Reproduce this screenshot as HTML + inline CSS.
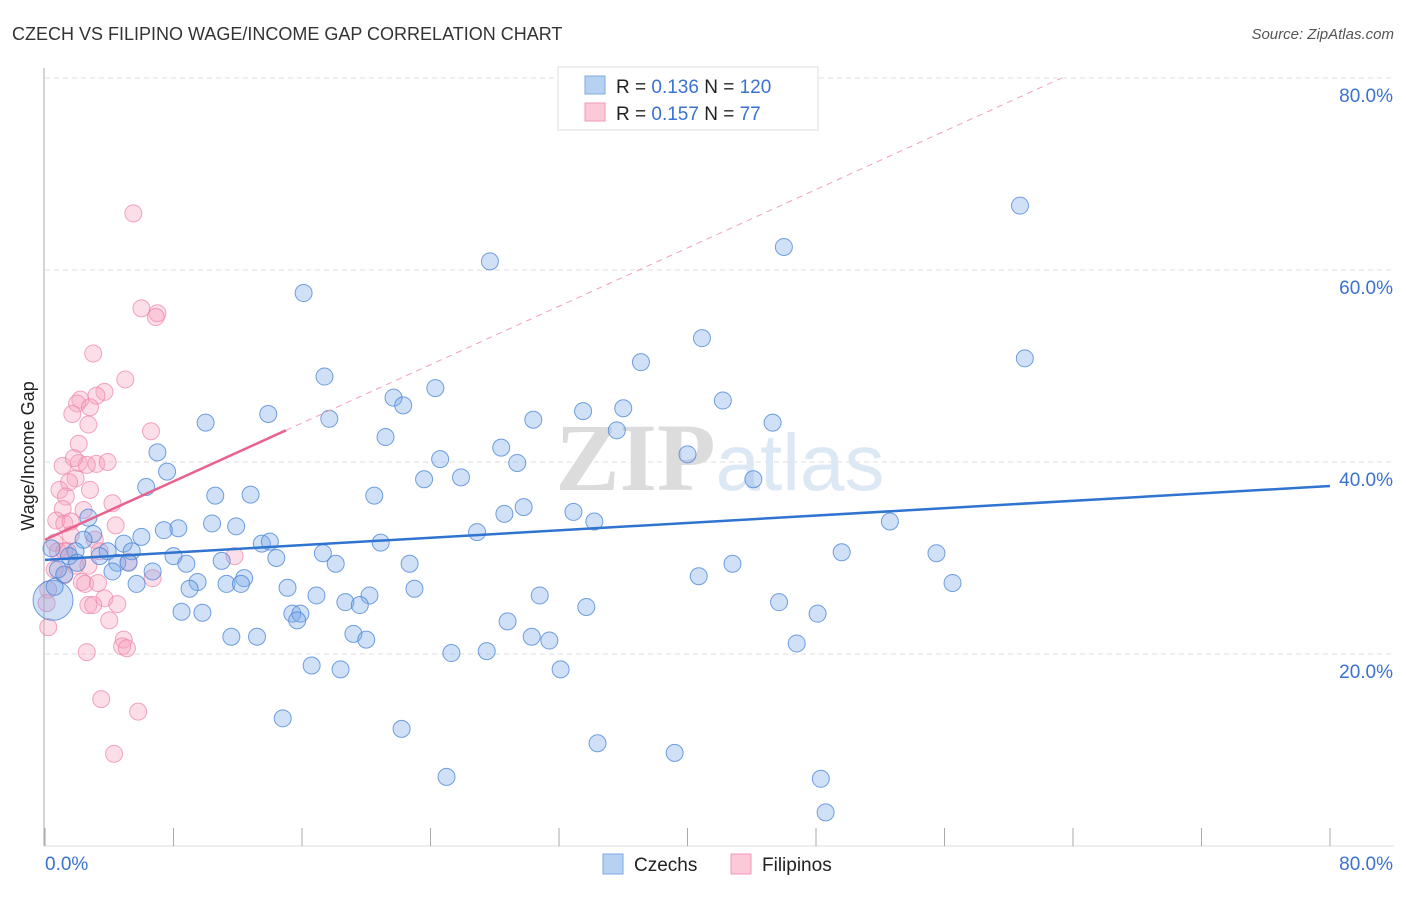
<!DOCTYPE html>
<html><head><meta charset="utf-8"><style>
body{margin:0;background:#fff;font-family:"Liberation Sans",sans-serif}
</style></head><body>
<svg id="c" width="1406" height="892" xmlns="http://www.w3.org/2000/svg">
<text x="12" y="40" font-size="18" fill="#333">CZECH VS FILIPINO WAGE/INCOME GAP CORRELATION CHART</text>
<text x="1394" y="39" font-size="15" fill="#555" text-anchor="end" font-style="italic">Source: ZipAtlas.com</text>
<g id="grid"></g>
<text x="720" y="490" font-size="96" fill="#e4e4e4" text-anchor="middle" font-family="Liberation Serif"><tspan font-weight="bold" fill="#dcdcdc">ZIP</tspan><tspan font-family="Liberation Sans" fill="#dde8f5" font-size="80">atlas</tspan></text>
<g id="marks"></g>
<text transform="translate(34,456) rotate(-90)" font-size="18" fill="#222" text-anchor="middle">Wage/Income Gap</text>
<g>
<rect x="558" y="67" width="260" height="63" fill="#fff" stroke="#ddd"/>
<rect x="585" y="76" width="20" height="18" fill="#b7d1f3" stroke="#7fa9e0"/>
<rect x="585" y="103" width="20" height="18" fill="#fcc9d8" stroke="#f09ab5"/>
<text x="616" y="93" font-size="19" fill="#222">R = <tspan fill="#3a72d0">0.136</tspan>   N = <tspan fill="#3a72d0">120</tspan></text>
<text x="616" y="120" font-size="19" fill="#222">R = <tspan fill="#3a72d0">0.157</tspan>   N = <tspan fill="#3a72d0">  77</tspan></text>
</g>
<g>
<rect x="603" y="854" width="20" height="20" fill="#b7d1f3" stroke="#7fa9e0"/>
<text x="634" y="871" font-size="19" fill="#222">Czechs</text>
<rect x="731" y="854" width="20" height="20" fill="#fcc9d8" stroke="#f09ab5"/>
<text x="762" y="871" font-size="19" fill="#222">Filipinos</text>
</g>
</svg>
<script>
const yTicks=[20,40,60,80];
const yTickLabels=["20.0%","40.0%","60.0%","80.0%"];
const xTicks=[0,8,16,24,32,40,48,56,64,72,80];
const czechX=[60.7,46.0,27.7,16.1,40.9,61.0,37.1,17.4,24.3,21.7,22.3,42.2,33.5,36.0,13.9,17.7,10.0,30.4,45.3,35.6,21.2,28.4,7.0,24.6,40.0,29.4,7.6,25.9,23.6,44.1,6.3,10.6,12.8,20.5,29.8,28.6,32.9,34.2,52.6,10.4,11.9,8.3,7.4,26.9,2.7,3.0,6.0,2.4,4.9,13.5,14.0,20.9,3.9,5.4,1.9,17.3,49.6,55.5,8.0,14.4,3.4,4.5,8.8,11.0,22.7,18.1,42.8,5.2,6.7,4.2,1.2,40.7,12.4,9.5,5.7,11.3,12.2,56.5,15.1,9.0,23.0,16.9,20.2,30.8,18.7,19.6,45.7,33.7,8.5,9.8,15.4,15.9,15.7,48.1,28.8,19.2,20.0,11.6,13.2,30.3,31.4,46.8,25.3,27.5,16.6,18.4,32.1,14.8,22.2,34.4,39.2,25.0,48.3,48.6,0.5,0.8,1.5,2.0,0.6,0.4];
const czechY=[66.7,62.4,60.9,57.6,52.9,50.8,50.4,48.9,47.7,46.7,45.9,46.4,45.3,45.6,45.0,44.5,44.1,44.4,44.1,43.3,42.6,41.5,41.0,40.3,40.8,39.9,39.0,38.4,38.2,38.2,37.4,36.5,36.6,36.5,35.3,34.6,34.8,33.8,33.8,33.6,33.3,33.1,32.9,32.7,34.2,32.5,32.2,31.9,31.5,31.5,31.7,31.6,30.7,30.7,30.7,30.5,30.6,30.5,30.2,30.0,30.2,29.5,29.4,29.7,29.4,29.4,29.4,29.5,28.6,28.6,28.3,28.1,27.9,27.5,27.3,27.3,27.3,27.4,26.9,26.8,26.8,26.1,26.1,26.1,25.4,25.1,25.4,24.9,24.4,24.3,24.2,24.2,23.5,24.2,23.4,22.1,21.5,21.8,21.8,21.8,21.4,21.1,20.1,20.3,18.8,18.4,18.4,13.3,12.2,10.7,9.7,7.2,7.0,3.5,25.6,28.8,30.2,29.5,27.0,31.0];
const filX=[5.5,6.0,7.0,6.9,3.0,5.0,3.7,3.2,2.2,2.0,2.8,1.7,2.7,6.6,2.1,1.1,2.1,3.2,3.9,1.9,1.5,0.9,2.8,1.3,1.1,4.2,2.4,0.7,1.2,1.6,4.4,1.6,3.1,0.6,0.8,1.4,3.4,11.8,5.2,1.9,2.7,0.6,1.2,6.7,2.3,2.5,3.3,0.2,3.7,0.1,2.7,3.0,4.5,4.0,0.2,4.9,4.8,5.1,2.6,3.5,5.8,4.3,2.6,1.8,1.2];
const filY=[65.9,56.0,55.5,55.1,51.3,48.6,47.3,46.9,46.5,46.1,45.7,45.0,43.9,43.2,41.9,39.6,39.9,39.8,40.0,38.3,37.9,37.1,37.1,36.4,35.1,35.7,35.0,33.9,33.6,33.8,33.4,32.4,31.9,31.6,30.7,30.7,30.7,30.2,29.6,29.2,29.2,28.8,28.2,27.9,27.5,27.3,27.4,26.7,25.8,25.3,25.1,25.1,25.2,23.5,22.8,21.5,20.8,20.6,20.2,15.3,14.0,9.6,39.7,40.4,30.7];
const czechTrend=[29.8,37.5];
const filTrend=[31.9,43.3];
const filTrendEnd=15;
const NS="http://www.w3.org/2000/svg";
const X0=45,X1=1330,Y0=846,Y80=78;
const xs=v=>X0+(X1-X0)*v/80;
const ys=v=>Y0-(Y0-Y80)*v/80;
function mk(tag,attrs,parent){const e=document.createElementNS(NS,tag);for(const k in attrs)e.setAttribute(k,attrs[k]);parent.appendChild(e);return e;}
const grid=document.getElementById('grid'),marks=document.getElementById('marks');
yTicks.forEach((t,i)=>{
 const l=mk('line',{x1:X0,x2:1394,y1:ys(t),y2:ys(t),stroke:'#ddd','stroke-dasharray':'5,4'},grid);
 
 
 const tx=mk('text',{x:1393,y:ys(t)+24,'font-size':19,fill:'#3a72d0','text-anchor':'end'},grid);
 tx.textContent=yTickLabels[i];
 
 
});
const ax=mk('line',{x1:44,x2:44,y1:68,y2:846,stroke:'#aaa'},grid);


const bx=mk('line',{x1:44,x2:1394,y1:846,y2:846,stroke:'#ddd'},grid);


xTicks.forEach(t=>{
 const l=mk('line',{x1:xs(t),x2:xs(t),y1:828,y2:846,stroke:'#aaa'},grid);
 
 
});
const xl=mk('text',{x:45,y:870,'font-size':19,fill:'#3a72d0'},grid);xl.textContent='0.0%';


const xr=mk('text',{x:1393,y:870,'font-size':19,fill:'#3a72d0','text-anchor':'end'},grid);xr.textContent='80.0%';


filX.forEach((x,i)=>{
 const c=mk('circle',{cx:xs(x),cy:ys(filY[i]),r:8.5,fill:'rgba(246,160,188,0.35)',stroke:'rgba(236,130,165,0.7)','stroke-width':1},marks);
 
 
});
czechX.forEach((x,i)=>{
 const big=i===czechX.length-6;
 const c=mk('circle',{cx:xs(x),cy:ys(czechY[i]),r:big?20:8.5,fill:'rgba(120,170,232,0.35)',stroke:'rgba(70,130,215,0.75)','stroke-width':1},marks);
 
 
});
const slope=(filTrend[1]-filTrend[0])/filTrendEnd;
const xEnd=(80-filTrend[0])/slope;
const d=mk('line',{x1:xs(filTrendEnd),y1:ys(filTrend[1]),x2:xs(xEnd),y2:ys(80),stroke:'#f0a0b8','stroke-width':1,'stroke-dasharray':'6,5'},marks);


const pt=mk('line',{x1:xs(0),y1:ys(filTrend[0]),x2:xs(filTrendEnd),y2:ys(filTrend[1]),stroke:'#e8628e','stroke-width':2.5},marks);


const bt=mk('line',{x1:xs(0),y1:ys(czechTrend[0]),x2:xs(80),y2:ys(czechTrend[1]),stroke:'#2f74d0','stroke-width':2.5},marks);


</script>
</body></html>
